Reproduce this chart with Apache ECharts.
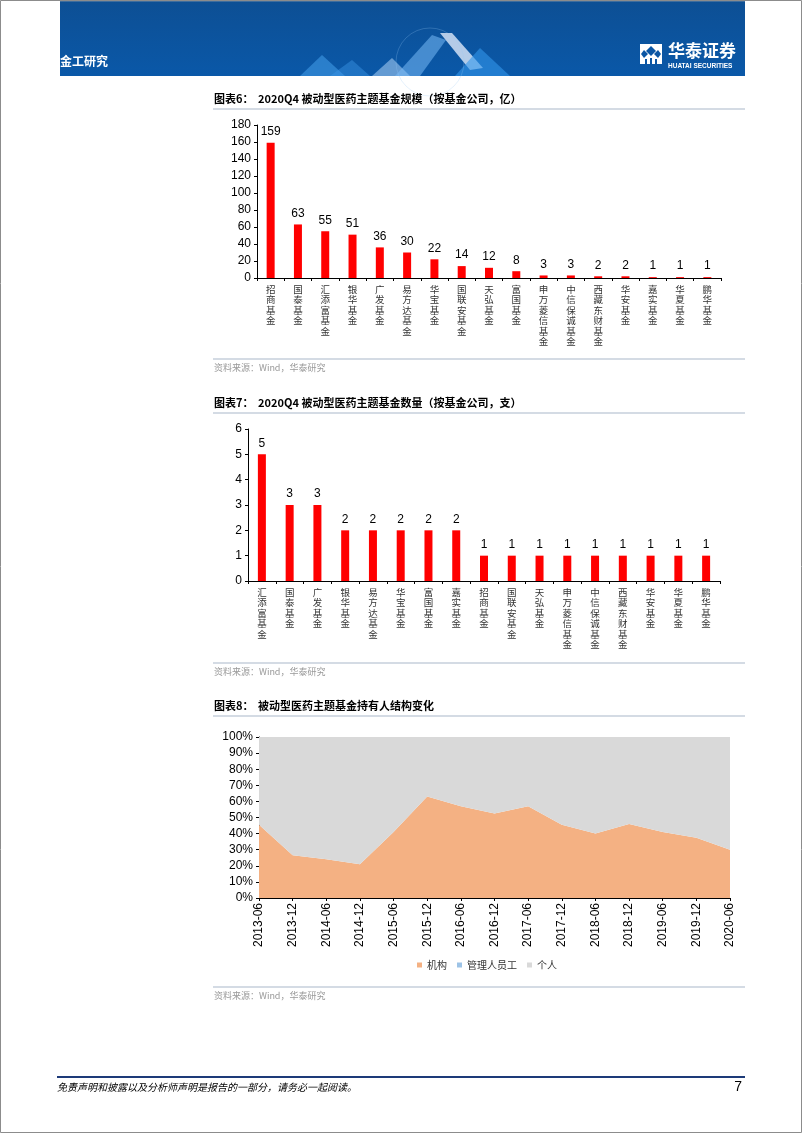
<!DOCTYPE html>
<html>
<head>
<meta charset="utf-8">
<script src="https://cdn.jsdelivr.net/npm/echarts@6/dist/echarts.min.js"></script>
<style>
html, body { margin: 0; padding: 0; background: #fff; }
#main { width: 802px; height: 1133px; }
</style>
</head>
<body>
<div id="main"></div>
<script>
// 图表6 规模（亿）
var sizeCompanies = ['招商基金', '国泰基金', '汇添富基金', '银华基金', '广发基金', '易方达基金', '华宝基金', '国联安基金', '天弘基金', '富国基金', '申万菱信基金', '中信保诚基金', '西藏东财基金', '华安基金', '嘉实基金', '华夏基金', '鹏华基金'];
var sizeValues = [159, 63, 55, 51, 36, 30, 22, 14, 12, 8, 3, 3, 2, 2, 1, 1, 1];

// 图表7 数量（支）
var countCompanies = ['汇添富基金', '国泰基金', '广发基金', '银华基金', '易方达基金', '华宝基金', '富国基金', '嘉实基金', '招商基金', '国联安基金', '天弘基金', '申万菱信基金', '中信保诚基金', '西藏东财基金', '华安基金', '华夏基金', '鹏华基金'];
var countValues = [5, 3, 3, 2, 2, 2, 2, 2, 1, 1, 1, 1, 1, 1, 1, 1, 1];

// 图表8 持有人结构（%）
var dates = ['2013-06', '2013-12', '2014-06', '2014-12', '2015-06', '2015-12', '2016-06', '2016-12', '2017-06', '2017-12', '2018-06', '2018-12', '2019-06', '2019-12', '2020-06'];
var institution = [45.5, 26.5, 24, 21, 41, 63, 57, 52.5, 57, 45.5, 40, 46, 41, 37.5, 30];
var staff = [0, 0, 0, 0, 0, 0, 0, 0, 0, 0, 0, 0, 0, 0, 0];
var individual = [54.5, 73.5, 76, 79, 59, 37, 43, 47.5, 43, 54.5, 60, 54, 59, 62.5, 70];

var cjk = '"Noto Sans CJK SC", sans-serif';
var num = '"Liberation Sans", Arial, sans-serif';

var myChart = echarts.init(document.getElementById('main'));

function vertical(v) {
    return v.split('').join('\n');
}

var catAxis = function (idx, data) {
    return {
        type: 'category',
        gridIndex: idx,
        data: data,
        axisLine: { lineStyle: { color: '#000', width: 1 } },
        axisTick: { show: true, alignWithLabel: false, length: 3, lineStyle: { color: '#000' } },
        axisLabel: {
            formatter: vertical,
            fontFamily: cjk,
            fontSize: 9.5,
            lineHeight: 10.5,
            color: '#333',
            margin: 6,
            interval: 0,
            verticalAlign: 'top'
        }
    };
};

var valAxis = function (idx, max, interval, fmt) {
    return {
        type: 'value',
        gridIndex: idx,
        min: 0,
        max: max,
        interval: interval,
        axisLine: { show: true, lineStyle: { color: '#000' } },
        axisTick: { show: true, length: 3, lineStyle: { color: '#000' } },
        splitLine: { show: false },
        axisLabel: {
            fontFamily: num,
            fontSize: 12,
            color: '#000',
            margin: 6,
            formatter: fmt || '{value}'
        }
    };
};

var titleText = function (y, label, text) {
    return [
        {
            type: 'text', left: 214, top: y,
            style: { text: label, font: 'bold 11px ' + cjk, fill: '#000' }
        },
        {
            type: 'text', left: 258, top: y,
            style: { text: text, font: 'bold 11px ' + cjk, fill: '#000' }
        },
        {
            type: 'line', shape: { x1: 213, y1: y + 16, x2: 745, y2: y + 16 },
            style: { stroke: '#a9b7c9', lineWidth: 1.2 }
        }
    ];
};

var sourceText = function (y) {
    return [
        {
            type: 'line', shape: { x1: 213, y1: y, x2: 745, y2: y },
            style: { stroke: '#a9b7c9', lineWidth: 1.2 }
        },
        {
            type: 'text', left: 214, top: y + 4,
            style: { text: '资料来源：Wind，华泰研究', font: '9px ' + cjk, fill: '#999' }
        }
    ];
};

var graphics = [
    // page frame
    { type: 'rect', shape: { x: 0.5, y: 0.5, width: 801, height: 1132 }, style: { fill: 'none', stroke: '#8c8c8c', lineWidth: 1 }, z: 10 },
    // header band
    {
        type: 'rect', shape: { x: 60, y: 0, width: 685, height: 76 },
        style: {
            fill: new echarts.graphic.LinearGradient(0, 0, 0, 1, [
                { offset: 0, color: '#0d4f94' },
                { offset: 1, color: '#0a58a8' }
            ])
        }
    },
    { type: 'rect', shape: { x: 60, y: 0, width: 685, height: 2 }, style: { fill: '#3e6d9e' } },
    // decorative peaks
    { type: 'polygon', shape: { points: [[300, 76], [322, 55], [345, 76]] }, style: { fill: 'rgba(70,160,235,0.55)' } },
    { type: 'polygon', shape: { points: [[330, 76], [352, 60], [370, 76]] }, style: { fill: 'rgba(60,150,230,0.45)' } },
    { type: 'polygon', shape: { points: [[372, 76], [392, 58], [410, 76]] }, style: { fill: 'rgba(160,200,240,0.6)' } },
    { type: 'polygon', shape: { points: [[395, 76], [432, 35], [446, 40], [420, 76]] }, style: { fill: 'rgba(120,185,245,0.55)' } },
    { type: 'polygon', shape: { points: [[440, 33], [452, 33], [483, 68], [470, 70]] }, style: { fill: 'rgba(210,225,245,0.85)' } },
    { type: 'polygon', shape: { points: [[455, 76], [480, 48], [510, 76]] }, style: { fill: 'rgba(50,150,235,0.6)' } },
    { type: 'circle', shape: { cx: 430, cy: 62, r: 34 }, style: { fill: 'none', stroke: 'rgba(150,200,245,0.25)', lineWidth: 1 } },
    {
        type: 'text', left: 60, top: 55,
        style: { text: '金工研究', font: 'bold 12px ' + cjk, fill: '#fff' }
    },
    // logo
    { type: 'rect', shape: { x: 640, y: 44, width: 22, height: 20 }, style: { fill: '#fff' } },
    { type: 'polygon', shape: { points: [[651, 46], [656, 51], [651, 56], [646, 51]] }, style: { fill: '#0b56a4' } },
    { type: 'polygon', shape: { points: [[644, 50], [648, 54], [644, 58], [641, 54]] }, style: { fill: '#0b56a4' } },
    { type: 'polygon', shape: { points: [[658, 50], [661, 54], [658, 58], [654, 54]] }, style: { fill: '#0b56a4' } },
    { type: 'rect', shape: { x: 645, y: 59, width: 2, height: 5 }, style: { fill: '#0b56a4' } },
    { type: 'rect', shape: { x: 650, y: 58, width: 2, height: 6 }, style: { fill: '#0b56a4' } },
    { type: 'rect', shape: { x: 655, y: 59, width: 2, height: 5 }, style: { fill: '#0b56a4' } },
    {
        type: 'text', left: 668, top: 42,
        style: { text: '华泰证券', font: 'bold 17px ' + cjk, fill: '#fff' }
    },
    {
        type: 'text', left: 668, top: 63,
        style: { text: 'HUATAI SECURITIES', font: 'bold 6.5px ' + num, fill: '#fff' }
    },
    // footer
    { type: 'line', shape: { x1: 57, y1: 1077, x2: 745, y2: 1077 }, style: { stroke: '#1d3a78', lineWidth: 2 } },
    {
        type: 'text', left: 57, top: 1082,
        style: { text: '免责声明和披露以及分析师声明是报告的一部分，请务必一起阅读。', font: 'italic 10px ' + cjk, fill: '#000' }
    },
    {
        type: 'text', right: 60, top: 1080,
        style: { text: '7', font: '14px ' + num, fill: '#000' }
    }
];

graphics = graphics
    .concat(titleText(93, '图表6：', '2020Q4 被动型医药主题基金规模（按基金公司，亿）'))
    .concat(sourceText(359))
    .concat(titleText(397, '图表7：', '2020Q4 被动型医药主题基金数量（按基金公司，支）'))
    .concat(sourceText(663))
    .concat(titleText(700, '图表8：', '被动型医药主题基金持有人结构变化'))
    .concat(sourceText(987));

var barLabel = {
    show: true,
    position: 'top',
    distance: 5,
    fontFamily: num,
    fontSize: 12,
    color: '#000'
};

option = {
    backgroundColor: '#fff',
    animation: false,
    graphic: graphics,
    grid: [
        { left: 257, top: 125, width: 464, height: 153 },
        { left: 248, top: 429, width: 472, height: 152 },
        { left: 259, top: 737, width: 471, height: 161 }
    ],
    legend: {
        data: ['机构', '管理人员工', '个人'],
        left: 412,
        top: 955,
        itemWidth: 5,
        itemHeight: 5,
        itemGap: 10,
        icon: 'rect',
        textStyle: { fontFamily: cjk, fontSize: 10, color: '#333' }
    },
    xAxis: [
        catAxis(0, sizeCompanies),
        catAxis(1, countCompanies),
        {
            type: 'category',
            gridIndex: 2,
            data: dates,
            boundaryGap: false,
            axisLine: { lineStyle: { color: '#000' } },
            axisTick: { show: true, length: 3, lineStyle: { color: '#000' } },
            axisLabel: {
                rotate: 90,
                interval: 0,
                fontFamily: num,
                fontSize: 12,
                color: '#000',
                margin: 5
            }
        }
    ],
    yAxis: [
        valAxis(0, 180, 20),
        valAxis(1, 6, 1),
        valAxis(2, 100, 10, '{value}%')
    ],
    series: [
        {
            name: '规模',
            type: 'bar',
            xAxisIndex: 0,
            yAxisIndex: 0,
            data: sizeValues,
            barWidth: 8,
            itemStyle: { color: '#ff0000' },
            label: barLabel
        },
        {
            name: '数量',
            type: 'bar',
            xAxisIndex: 1,
            yAxisIndex: 1,
            data: countValues,
            barWidth: 8,
            itemStyle: { color: '#ff0000' },
            label: barLabel
        },
        {
            name: '机构',
            type: 'line',
            xAxisIndex: 2,
            yAxisIndex: 2,
            stack: 'holder',
            data: institution,
            symbol: 'none',
            lineStyle: { width: 0 },
            itemStyle: { color: '#f4b183' },
            areaStyle: { color: '#f4b183', opacity: 1 }
        },
        {
            name: '管理人员工',
            type: 'line',
            xAxisIndex: 2,
            yAxisIndex: 2,
            stack: 'holder',
            data: staff,
            symbol: 'none',
            lineStyle: { width: 0 },
            itemStyle: { color: '#9dc3e6' },
            areaStyle: { color: '#9dc3e6', opacity: 1 }
        },
        {
            name: '个人',
            type: 'line',
            xAxisIndex: 2,
            yAxisIndex: 2,
            stack: 'holder',
            data: individual,
            symbol: 'none',
            lineStyle: { width: 0 },
            itemStyle: { color: '#d9d9d9' },
            areaStyle: { color: '#d9d9d9', opacity: 1 }
        }
    ]
};

myChart.setOption(option);
</script>
</body>
</html>
